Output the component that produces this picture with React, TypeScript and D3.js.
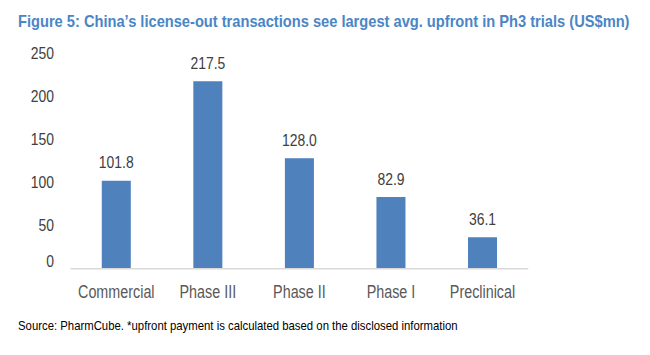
import React from "react";
import * as d3 from "d3";

const categories = ["Commercial", "Phase III", "Phase II", "Phase I", "Preclinical"];
const values = [101.8, 217.5, 128.0, 82.9, 36.1];
const yTicks = [0, 50, 100, 150, 200, 250];
const title = "Figure 5: China’s license-out transactions see largest avg. upfront in Ph3 trials (US$mn)";
const source = "Source: PharmCube. *upfront payment is calculated based on the disclosed information";

const W = 650;
const H = 355;
const FONT = "'Liberation Sans', Arial, sans-serif";
const NARROW = 0.82;

function measure(text: string, size: number, weight: string): number {
  const c = document.createElement("canvas").getContext("2d");
  if (!c) return text.length * size * 0.5;
  c.font = `${weight} ${size}px ${FONT}`;
  return c.measureText(text).width;
}

type TProps = {
  x: number;
  y: number;
  size: number;
  anchor?: "start" | "middle" | "end";
  weight?: string;
  fill: string;
  sx?: number;
  width?: number;
  children: string;
};

function NText({ x, y, size, anchor = "start", weight = "normal", fill, sx = NARROW, width, children }: TProps) {
  let s = sx;
  if (width) s = width / measure(children, size, weight);
  return (
    <text
      transform={`translate(${x},${y}) scale(${s},1)`}
      textAnchor={anchor}
      fontFamily={FONT}
      fontWeight={weight}
      fontSize={size}
      fill={fill}
    >
      {children}
    </text>
  );
}

export default function App() {
  const x = d3
    .scaleBand<string>()
    .domain(categories)
    .range([70.5, 528.3])
    .paddingInner(0.683)
    .paddingOuter(0.3415);
  const y = d3.scaleLinear().domain([0, 250]).range([268.3, 53.3]);

  return (
    <svg
      width={W}
      height={H}
      viewBox={`0 0 ${W} ${H}`}
      style={{ position: "absolute", left: 0, top: 0, background: "#fff" }}
    >
      <rect x={0} y={0} width={W} height={H} fill="#fff" />
      <NText x={18} y={26.5} size={17} weight="bold" fill="#4a86c6" width={612}>
        {title}
      </NText>

      {yTicks.map((t) => (
        <NText key={t} x={54} y={y(t) + (t === 0 ? -1.5 : 6)} size={17} anchor="end" fill="#404040">
          {String(t)}
        </NText>
      ))}

      {categories.map((c, i) => (
        <g key={c}>
          <rect
            x={x(c)!}
            y={y(values[i])}
            width={x.bandwidth()}
            height={y(0) - y(values[i])}
            fill="#4f81bd"
          />
          <NText
            x={x(c)! + x.bandwidth() / 2}
            y={y(values[i]) - 12.5}
            size={17}
            anchor="middle"
            fill="#404040"
          >
            {values[i].toFixed(1)}
          </NText>
          <NText x={x(c)! + x.bandwidth() / 2} y={297.5} size={17.5} anchor="middle" fill="#595959">
            {c}
          </NText>
        </g>
      ))}

      <line x1={70.5} x2={528.3} y1={y(0) + 0.5} y2={y(0) + 0.5} stroke="#d9d9d9" strokeWidth={1.5} />

      <NText x={18} y={330} size={12} fill="#000" width={440}>
        {source}
      </NText>
    </svg>
  );
}
